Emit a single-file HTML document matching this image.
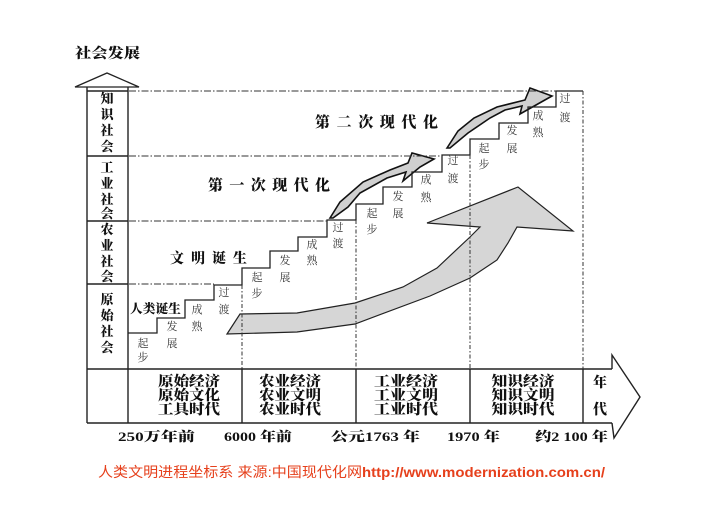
<!DOCTYPE html>
<html><head><meta charset="utf-8"><style>
html,body{margin:0;padding:0;background:#fff;}
svg{display:block;}
.cj{font-family:"Liberation Serif","Noto Serif CJK SC",serif;font-weight:900;fill:#111;}
.sm{font-family:"Liberation Serif","Noto Serif CJK SC",serif;font-weight:400;fill:#333;font-size:11px;text-anchor:middle;}
</style></head><body>
<svg width="720" height="509" viewBox="0 0 720 509" xmlns="http://www.w3.org/2000/svg">
<rect width="720" height="509" fill="#fff"/>
<!-- title -->
<text class="cj" x="75" y="58" font-size="14" textLength="65" lengthAdjust="spacingAndGlyphs">社会发展</text>

<!-- vertical arrow column -->
<polygon points="75,87 107,73 139,87" fill="#fff" stroke="#222" stroke-width="1.3"/>
<g stroke="#222" stroke-width="1.4" fill="none">
<line x1="87" y1="87" x2="87" y2="423"/>
<line x1="128" y1="87" x2="128" y2="423"/>
<line x1="87" y1="91" x2="128" y2="91"/>
<line x1="87" y1="156" x2="128" y2="156"/>
<line x1="87" y1="221" x2="128" y2="221"/>
<line x1="87" y1="284" x2="128" y2="284"/>
<line x1="87" y1="369" x2="612" y2="369"/>
<line x1="87" y1="423" x2="612" y2="423"/>
<line x1="242" y1="369" x2="242" y2="423"/>
<line x1="356" y1="369" x2="356" y2="423"/>
<line x1="470" y1="369" x2="470" y2="423"/>
<line x1="583" y1="369" x2="583" y2="423"/>
<polyline points="612,369 612,355 640,397 614,438 612,423"/>
</g>

<!-- column labels -->
<g class="cj" font-size="13" text-anchor="middle">
<text x="107" y="103">知</text><text x="107" y="119">识</text><text x="107" y="135">社</text><text x="107" y="151">会</text>
<text x="107" y="172">工</text><text x="107" y="188">业</text><text x="107" y="204">社</text><text x="107" y="218">会</text>
<text x="107" y="234">农</text><text x="107" y="250">业</text><text x="107" y="266">社</text><text x="107" y="281">会</text>
<text x="107" y="304">原</text><text x="107" y="320">始</text><text x="107" y="336">社</text><text x="107" y="352">会</text>
</g>

<!-- big curved arrow -->
<polygon points="227,334 240,314 297,313 355,303 403,287 437,268 470,237 480,227 427,223 518,187 573,231 517,227 508,243 497,260 470,278 430,296 355,324 297,332" fill="#d6d6d6" stroke="#222" stroke-width="1.2"/>

<!-- small arrows -->
<polygon points="330,218 340,202 363,182 390,170 408,163 412,153 434,159 420,167 403,181 406,172 387,178 360,193 348,207 333,218" fill="#d0d0d0" stroke="#111" stroke-width="1.6"/>
<polygon points="447,148 458,131 474,118 497,107 525,100 530,88 552,96 536,105 520,114 522,106 505,110 490,118 468,133 450,148" fill="#d0d0d0" stroke="#111" stroke-width="1.6"/>

<!-- staircase -->
<path d="M128,333 H157 V318 H185 V300 H214 V285 H242 V268 H270 V251 H298 V237 H327 V220 H356 V204 H383 V187 H412 V172 H442 V155 H470 V139 H499 V123 H528 V107 H556 V91 H583" fill="none" stroke="#222" stroke-width="1.3"/>

<!-- dash-dot horizontal lines -->
<g stroke="#333" stroke-width="1" stroke-dasharray="7 2 1.5 2" fill="none">
<line x1="129" y1="91" x2="556" y2="91"/>
<line x1="129" y1="156" x2="442" y2="156"/>
<line x1="129" y1="221" x2="327" y2="221"/>
<line x1="129" y1="284" x2="214" y2="284"/>
</g>
<g stroke="#333" stroke-width="1" stroke-dasharray="4 2 1.5 2" fill="none">
<line x1="242" y1="285" x2="242" y2="369"/>
<line x1="356" y1="220" x2="356" y2="369"/>
<line x1="470" y1="155" x2="470" y2="369"/>
<line x1="583" y1="91" x2="583" y2="369"/>
</g>

<!-- step labels -->
<g class="sm">
<text x="143" y="347">起</text><text x="143" y="361">步</text>
<text x="172" y="330">发</text><text x="172" y="347">展</text>
<text x="197" y="313">成</text><text x="197" y="330">熟</text>
<text x="224" y="296">过</text><text x="224" y="313">渡</text>

<text x="257" y="281">起</text><text x="257" y="297">步</text>
<text x="285" y="264">发</text><text x="285" y="281">展</text>
<text x="312" y="248">成</text><text x="312" y="264">熟</text>
<text x="338" y="231">过</text><text x="338" y="247">渡</text>

<text x="372" y="217">起</text><text x="372" y="233">步</text>
<text x="398" y="200">发</text><text x="398" y="217">展</text>
<text x="426" y="183">成</text><text x="426" y="201">熟</text>
<text x="453" y="164">过</text><text x="453" y="182">渡</text>

<text x="484" y="152">起</text><text x="484" y="168">步</text>
<text x="512" y="134">发</text><text x="512" y="152">展</text>
<text x="538" y="119">成</text><text x="538" y="136">熟</text>
<text x="565" y="102">过</text><text x="565" y="121">渡</text>
</g>

<!-- headings -->
<text class="cj" x="130" y="313" font-size="12.5" textLength="51" lengthAdjust="spacingAndGlyphs">人类诞生</text>
<text class="cj" x="170" y="263" font-size="14" textLength="77" lengthAdjust="spacing">文明诞生</text>
<text class="cj" x="208" y="190" font-size="15" textLength="122" lengthAdjust="spacing">第一次现代化</text>
<text class="cj" x="315" y="127" font-size="15" textLength="123" lengthAdjust="spacing">第二次现代化</text>

<!-- bottom row text -->
<g class="cj" font-size="14" text-anchor="middle">
<text x="189" y="386" textLength="62" lengthAdjust="spacingAndGlyphs">原始经济</text>
<text x="189" y="400" textLength="62" lengthAdjust="spacingAndGlyphs">原始文化</text>
<text x="189" y="414" textLength="62" lengthAdjust="spacingAndGlyphs">工具时代</text>
<text x="290" y="386" textLength="62" lengthAdjust="spacingAndGlyphs">农业经济</text>
<text x="290" y="400" textLength="62" lengthAdjust="spacingAndGlyphs">农业文明</text>
<text x="290" y="414" textLength="62" lengthAdjust="spacingAndGlyphs">农业时代</text>
<text x="406" y="386" textLength="64" lengthAdjust="spacingAndGlyphs">工业经济</text>
<text x="406" y="400" textLength="64" lengthAdjust="spacingAndGlyphs">工业文明</text>
<text x="406" y="414" textLength="64" lengthAdjust="spacingAndGlyphs">工业时代</text>
<text x="523" y="386" textLength="63" lengthAdjust="spacingAndGlyphs">知识经济</text>
<text x="523" y="400" textLength="63" lengthAdjust="spacingAndGlyphs">知识文明</text>
<text x="523" y="414" textLength="63" lengthAdjust="spacingAndGlyphs">知识时代</text>
<text x="600" y="387">年</text>
<text x="600" y="414">代</text>
</g>

<!-- time labels -->
<g class="cj" font-size="13">
<text x="118" y="441" textLength="77" lengthAdjust="spacingAndGlyphs">250万年前</text>
<text x="224" y="441" textLength="68" lengthAdjust="spacingAndGlyphs">6000 年前</text>
<text x="331" y="441" textLength="89" lengthAdjust="spacingAndGlyphs">公元1763 年</text>
<text x="447" y="441" textLength="53" lengthAdjust="spacingAndGlyphs">1970 年</text>
<text x="535" y="441" textLength="73" lengthAdjust="spacingAndGlyphs">约2 100 年</text>
</g>

<!-- caption -->
<text x="98" y="477" font-size="14" fill="#e6401c" font-family="'Liberation Sans','Noto Sans CJK SC',sans-serif" textLength="264" lengthAdjust="spacingAndGlyphs">人类文明进程坐标系 来源:中国现代化网</text>
<text x="362" y="477" font-size="14" fill="#e6401c" font-weight="bold" font-family="'Liberation Sans',sans-serif" textLength="243" lengthAdjust="spacingAndGlyphs">http://www.modernization.com.cn/</text>
</svg>
</body></html>
